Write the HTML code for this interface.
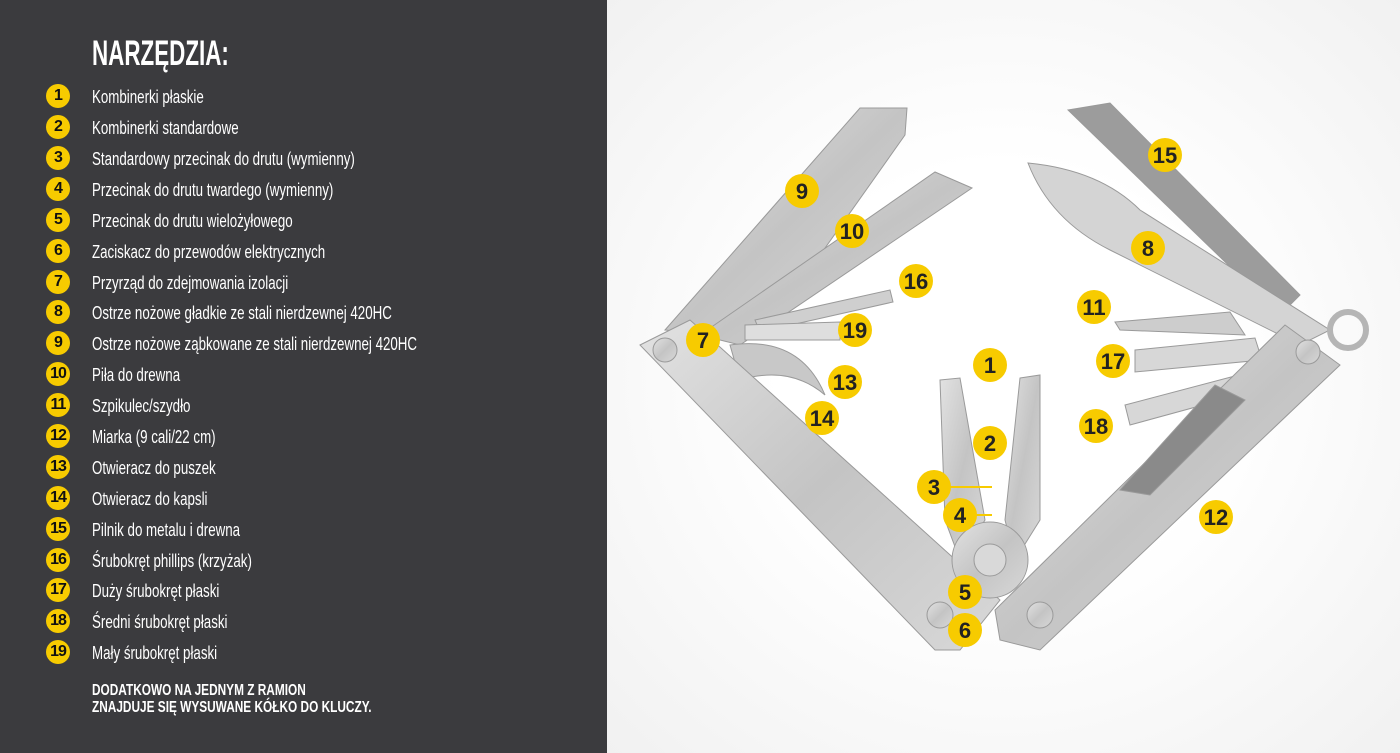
<!DOCTYPE html>
<html><head><meta charset="utf-8"><style>
body{margin:0;width:1400px;height:753px;overflow:hidden;font-family:"Liberation Sans",sans-serif}
#l{position:absolute;left:0;top:0;width:607px;height:753px;background:#3b3b3e;color:#fff}
#r{position:absolute;left:607px;top:0;width:793px;height:753px;background:radial-gradient(ellipse at 50% 50%,#ffffff 40%,#f1f1f1 100%)}
h1{position:absolute;left:92px;top:34px;margin:0;font-size:35px;font-weight:bold;transform:scaleX(.64);transform-origin:left;white-space:nowrap}
.i{position:absolute;left:46px;height:24px;line-height:24px;font-size:18px;white-space:nowrap}
.i b{display:inline-block;width:24px;height:24px;border-radius:50%;background:#f7cb00;color:#111;text-align:center;font-size:16px;margin-right:22px;vertical-align:top;letter-spacing:-1px}
.i span{display:inline-block;transform:scaleX(.74);transform-origin:left;position:relative;top:1px}
.f{position:absolute;left:92px;top:682px;font-size:16px;font-weight:bold;line-height:17px;transform:scaleX(.74);transform-origin:left;white-space:nowrap}
</style></head><body>
<div id="l">
<h1>NARZĘDZIA:</h1>
<div class="i" style="top:84px"><b>1</b><span>Kombinerki płaskie</span></div>
<div class="i" style="top:115px"><b>2</b><span>Kombinerki standardowe</span></div>
<div class="i" style="top:146px"><b>3</b><span>Standardowy przecinak do drutu (wymienny)</span></div>
<div class="i" style="top:177px"><b>4</b><span>Przecinak do drutu twardego (wymienny)</span></div>
<div class="i" style="top:208px"><b>5</b><span>Przecinak do drutu wielożyłowego</span></div>
<div class="i" style="top:239px"><b>6</b><span>Zaciskacz do przewodów elektrycznych</span></div>
<div class="i" style="top:270px"><b>7</b><span>Przyrząd do zdejmowania izolacji</span></div>
<div class="i" style="top:300px"><b>8</b><span>Ostrze nożowe gładkie ze stali nierdzewnej 420HC</span></div>
<div class="i" style="top:331px"><b>9</b><span>Ostrze nożowe ząbkowane ze stali nierdzewnej 420HC</span></div>
<div class="i" style="top:362px"><b>10</b><span>Piła do drewna</span></div>
<div class="i" style="top:393px"><b>11</b><span>Szpikulec/szydło</span></div>
<div class="i" style="top:424px"><b>12</b><span>Miarka (9 cali/22 cm)</span></div>
<div class="i" style="top:455px"><b>13</b><span>Otwieracz do puszek</span></div>
<div class="i" style="top:486px"><b>14</b><span>Otwieracz do kapsli</span></div>
<div class="i" style="top:517px"><b>15</b><span>Pilnik do metalu i drewna</span></div>
<div class="i" style="top:548px"><b>16</b><span>Śrubokręt phillips (krzyżak)</span></div>
<div class="i" style="top:578px"><b>17</b><span>Duży śrubokręt płaski</span></div>
<div class="i" style="top:609px"><b>18</b><span>Średni śrubokręt płaski</span></div>
<div class="i" style="top:640px"><b>19</b><span>Mały śrubokręt płaski</span></div>
<div class="f">DODATKOWO NA JEDNYM Z RAMION<br>ZNAJDUJE SIĘ WYSUWANE KÓŁKO DO KLUCZY.</div>
</div>
<div id="r"></div>
<svg style="position:absolute;left:0;top:0" width="1400" height="753">
<defs><linearGradient id="m" x1="0" y1="0" x2="1" y2="1"><stop offset="0" stop-color="#e2e2e2"/><stop offset=".5" stop-color="#c4c4c4"/><stop offset="1" stop-color="#d8d8d8"/></linearGradient></defs>
<g fill="url(#m)" stroke="#9a9a9a" stroke-width="1">
<polygon points="665,330 860,108 907,108 905,135 760,340"/>
<polygon points="700,335 935,172 972,188 740,345"/>
<polygon points="755,320 890,290 893,302 760,332" fill="#cfcfcf"/>
<polygon points="745,325 840,322 840,340 745,340" fill="#dedede"/>
<path d="M730,345 Q800,335 825,395 Q790,365 740,380 Z" fill="#c8c8c8"/>
<polygon points="1068,110 1110,103 1300,295 1280,315" fill="#9c9c9c"/>
<path d="M1028,163 Q1100,170 1140,210 L1330,330 1300,345 1110,250 Q1050,220 1028,163 Z" fill="#d4d4d4"/>
<polygon points="1115,322 1230,312 1245,335 1120,330" fill="#cdcdcd"/>
<polygon points="1135,350 1255,338 1262,360 1135,372" fill="#d7d7d7"/>
<polygon points="1125,405 1250,372 1258,390 1130,425" fill="#d7d7d7"/>
<circle cx="1348" cy="330" r="18" fill="none" stroke="#b5b5b5" stroke-width="6"/>
<polygon points="640,345 690,320 1000,600 960,650 935,650"/>
<polygon points="1285,325 1340,365 1040,650 1000,640 995,610"/>
<polygon points="1120,490 1215,385 1245,400 1150,495" fill="#8a8a8a"/>
<polygon points="940,380 960,378 985,520 960,560 945,520"/>
<polygon points="1020,378 1040,375 1040,520 1015,560 1005,520"/>
<circle cx="990" cy="560" r="38"/>
<circle cx="990" cy="560" r="16" fill="#d9d9d9"/>
<circle cx="665" cy="350" r="12"/><circle cx="1308" cy="352" r="12"/>
<circle cx="940" cy="615" r="13"/><circle cx="1040" cy="615" r="13"/>
</g>
<g stroke="#f7cb00" stroke-width="2"><line x1="950" y1="487" x2="992" y2="487"/><line x1="975" y1="515" x2="992" y2="515"/></g>
<g fill="#f7cb00" font-family="Liberation Sans,sans-serif" font-weight="bold" font-size="22" text-anchor="middle">
<circle cx="990" cy="365" r="17"/><circle cx="990" cy="443" r="17"/><circle cx="934" cy="487" r="17"/><circle cx="960" cy="515" r="17"/><circle cx="965" cy="592" r="17"/><circle cx="965" cy="630" r="17"/><circle cx="703" cy="340" r="17"/><circle cx="1148" cy="248" r="17"/><circle cx="802" cy="191" r="17"/><circle cx="852" cy="231" r="17"/><circle cx="1094" cy="307" r="17"/><circle cx="1216" cy="517" r="17"/><circle cx="845" cy="382" r="17"/><circle cx="822" cy="418" r="17"/><circle cx="1165" cy="155" r="17"/><circle cx="916" cy="281" r="17"/><circle cx="1113" cy="361" r="17"/><circle cx="1096" cy="426" r="17"/><circle cx="855" cy="330" r="17"/>
<g fill="#222">
<text x="990" y="373">1</text><text x="990" y="451">2</text><text x="934" y="495">3</text><text x="960" y="523">4</text><text x="965" y="600">5</text><text x="965" y="638">6</text><text x="703" y="348">7</text><text x="1148" y="256">8</text><text x="802" y="199">9</text><text x="852" y="239">10</text><text x="1094" y="315">11</text><text x="1216" y="525">12</text><text x="845" y="390">13</text><text x="822" y="426">14</text><text x="1165" y="163">15</text><text x="916" y="289">16</text><text x="1113" y="369">17</text><text x="1096" y="434">18</text><text x="855" y="338">19</text>
</g></g>
</svg>
</body></html>
